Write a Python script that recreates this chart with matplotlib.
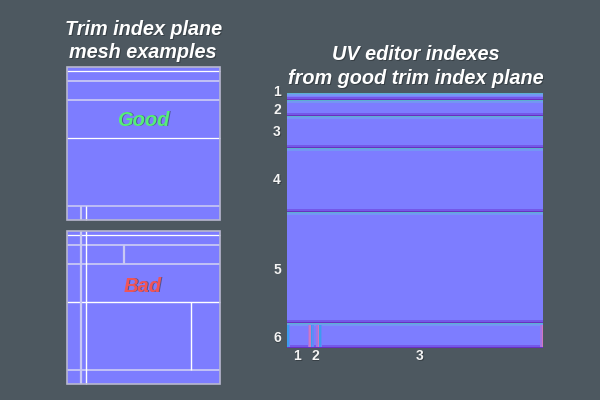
import matplotlib
matplotlib.use("Agg")
from matplotlib import pyplot as plt
from matplotlib.patches import Rectangle

# Colours
bg = '#4d5860'
normal = '#7d7dff'
white = '#ffffff'
lav = '#c8c8f4'
frame = '#b8b8d0'
top_edge = '#5cb0d0'
top_edge2 = '#7496f4'
bot_edge = '#6a30c0'
bot_edge2 = '#7458e8'
left_edge = '#3c9cf0'
left_edge2 = '#6488f8'
right_edge = '#d078c0'
right_edge2 = '#a474e4'

# Mesh example panels (left, top, right, bottom)
good_box = (67, 67, 220, 220)
bad_box = (67, 231, 220, 384)

# (y, x0, x1, colour, width)
good_h = [(71, 67, 220, white, 0.9), (81, 67, 220, lav, 1.3), (100, 67, 220, lav, 1.3),
          (138.3, 67, 220, white, 0.9), (206, 67, 220, lav, 1.2)]
good_v = [(81, 206, 220, lav, 1.5), (86.3, 206, 220, white, 1.0)]

bad_h = [(235.3, 67, 220, white, 0.9), (245, 67, 220, lav, 1.3), (264, 67, 220, lav, 1.3),
         (302.3, 67, 220, white, 1.0), (370, 67, 220, lav, 1.3)]
bad_v = [(81, 231, 384, lav, 1.6), (86.3, 231, 384, white, 1.0),
         (124, 245, 264, lav, 1.6), (190.5, 302, 370, white, 1.0)]

# UV editor bands (top, bottom), they touch each other
bands = [(92.5, 100), (100, 116), (116, 148), (148, 212), (212, 323), (323, 348)]
uv_x0 = 287
uv_x1 = 543
# cells of the last band
cells = [(287, 310.5), (310.5, 319), (319, 543)]

row_labels = ['1', '2', '3', '4', '5', '6']
row_label_y = [91, 108, 131, 179, 268, 337]
col_labels = ['1', '2', '3']
col_label_x = [297, 315, 420]
col_label_y = 355


def rect(ax, x0, y0, x1, y1, color, z=2):
    ax.add_patch(Rectangle((x0, y0), x1 - x0, y1 - y0, facecolor=color, edgecolor='none', zorder=z))


def shadow_text(ax, x, y, s, color, size, italic=True, off=1.0):
    style = 'italic' if italic else 'normal'
    ax.text(x + off, y + off, s, color='#22282c', fontsize=size, fontweight='bold', fontstyle=style,
            family='Liberation Sans', ha='center', va='center_baseline', alpha=0.5, zorder=5)
    ax.text(x, y, s, color=color, fontsize=size, fontweight='bold', fontstyle=style,
            family='Liberation Sans', ha='center', va='center_baseline', zorder=6)


def mesh_panel(ax, box, hlines, vlines):
    x0, y0, x1, y1 = box
    rect(ax, x0, y0, x1, y1, normal)
    for y, a, b, c, w in hlines:
        ax.plot([a, b], [y, y], color=c, lw=w, zorder=3, solid_capstyle='butt')
    for x, a, b, c, w in vlines:
        ax.plot([x, x], [a, b], color=c, lw=w, zorder=3, solid_capstyle='butt')
    ax.add_patch(Rectangle((x0, y0), x1 - x0, y1 - y0, facecolor='none', edgecolor=frame, lw=1.2, zorder=4))


fig = plt.figure(figsize=(6, 4), dpi=100, facecolor=bg)
ax = fig.add_axes([0, 0, 1, 1])
ax.set_xlim(0, 600)
ax.set_ylim(400, 0)
ax.axis('off')

mesh_panel(ax, good_box, good_h, good_v)
mesh_panel(ax, bad_box, bad_h, bad_v)

# UV bands with lit top edge and dark bottom edge
for top, bottom in bands:
    rect(ax, uv_x0, top, uv_x1, bottom, normal)
    rect(ax, uv_x0, top, uv_x1, top + 3, top_edge2, 3)
    rect(ax, uv_x0, top, uv_x1, top + 1.4, top_edge, 3)
    rect(ax, uv_x0, bottom - 3, uv_x1, bottom, bot_edge2, 3)
    rect(ax, uv_x0, bottom - 1.4, uv_x1, bottom, bot_edge, 3)

last_top, last_bottom = bands[-1]
for a, b in cells:
    rect(ax, a, last_top + 1.5, a + 3, last_bottom - 1.5, left_edge2, 4)
    rect(ax, a, last_top + 1.5, a + 1.5, last_bottom - 1.5, left_edge, 4)
    rect(ax, b - 3, last_top + 1.5, b, last_bottom - 1.5, right_edge2, 4)
    rect(ax, b - 1.5, last_top + 1.5, b, last_bottom - 1.5, right_edge, 4)

# Titles
shadow_text(ax, 144, 27.5, 'Trim index plane', white, 14.3)
shadow_text(ax, 143, 50.5, 'mesh examples', white, 14.3)
shadow_text(ax, 416, 52.5, 'UV editor indexes', white, 14.3)
shadow_text(ax, 416, 76.5, 'from good trim index plane', white, 14.3)

shadow_text(ax, 143, 118, 'Good', '#55ee77', 14.5)
shadow_text(ax, 143, 284, 'Bad', '#f05558', 14.5)

for s, y in zip(row_labels, row_label_y):
    shadow_text(ax, 277, y, s, '#f4f4f4', 10, italic=False, off=0.7)
for s, x in zip(col_labels, col_label_x):
    shadow_text(ax, x, col_label_y, s, '#f4f4f4', 10, italic=False, off=0.7)

fig.savefig('out.png', dpi=100, facecolor=bg)
